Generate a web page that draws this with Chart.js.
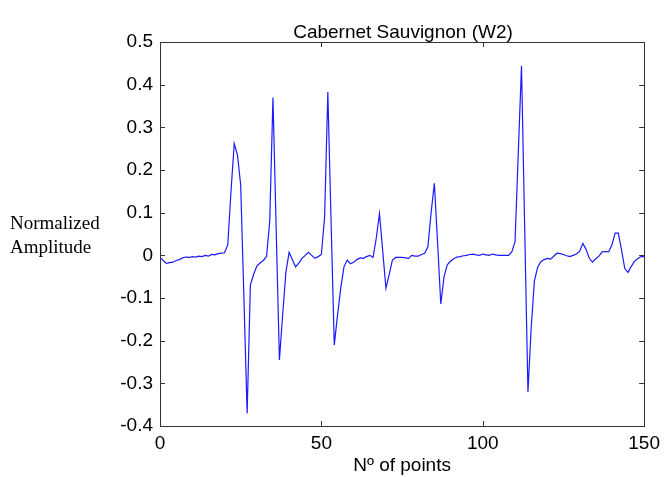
<!DOCTYPE html>
<html>
<head>
<meta charset="utf-8">
<script src="https://cdn.jsdelivr.net/npm/chart.js@4.4.1/dist/chart.umd.min.js"></script>
<style>
    body { margin: 0; background: #fff; }
    .wrap { position: relative; width: 666px; height: 477px; }
    .ylab {
        position: absolute; left: 10px; top: 211px;
        font-family: 'Liberation Serif', 'Times New Roman', serif;
        font-size: 19px; line-height: 24px; color: #000;
    }
    .title {
        position: absolute; left: 160px; width: 486px; top: 20px;
        text-align: center; color: #000;
        font-family: 'Liberation Sans', Arial, sans-serif;
        font-size: 19px; line-height: 24px;
    }
</style>
</head>
<body>
<div class="wrap">
    <canvas id="ampChart" width="666" height="477"></canvas>
    <div class="title">Cabernet Sauvignon (W2)</div>
    <div class="ylab">Normalized<br>Amplitude</div>
</div>
<script>
// Values, one per point (x = 0 .. 150)
const amplitude = [
    -0.005, -0.012, -0.019, -0.017, -0.016, -0.012, -0.010, -0.006, -0.004, -0.005,
    -0.003, -0.004, -0.002, -0.003, 0.000, -0.002, 0.002, 0.001, 0.004, 0.005,
    0.006, 0.025, 0.150, 0.262, 0.235, 0.165, -0.100, -0.370, -0.070, -0.045,
    -0.025, -0.018, -0.012, -0.003, 0.080, 0.370, 0.060, -0.245, -0.140, -0.040,
    0.007, -0.010, -0.027, -0.018, -0.007, 0.000, 0.007, 0.000, -0.007, -0.003,
    0.002, 0.090, 0.383, 0.080, -0.210, -0.140, -0.077, -0.027, -0.011, -0.020,
    -0.016, -0.010, -0.006, -0.007, -0.003, 0.000, -0.005, 0.040, 0.098, 0.010,
    -0.077, -0.045, -0.011, -0.005, -0.005, -0.005, -0.006, -0.007, 0.000, -0.002,
    -0.002, 0.002, 0.005, 0.020, 0.100, 0.169, 0.030, -0.114, -0.050, -0.022,
    -0.014, -0.008, -0.004, -0.003, -0.001, 0.000, 0.002, 0.003, 0.001, 0.000,
    0.003, 0.001, 0.000, 0.003, 0.001, 0.000, 0.000, 0.000, 0.000, 0.008,
    0.032, 0.240, 0.444, 0.060, -0.320, -0.170, -0.060, -0.028, -0.015, -0.010,
    -0.007, -0.009, -0.002, 0.005, 0.004, 0.002, -0.001, -0.003, 0.000, 0.003,
    0.009, 0.028, 0.014, -0.007, -0.016, -0.008, -0.002, 0.008, 0.009, 0.008,
    0.024, 0.052, 0.052, 0.012, -0.031, -0.040, -0.026, -0.014, -0.008, -0.003,
    -0.003
];
const xTicks = [0, 50, 100, 150];
const yTicks = [-0.4, -0.3, -0.2, -0.1, 0, 0.1, 0.2, 0.3, 0.4, 0.5];

const sans = "'Liberation Sans', Arial, sans-serif";

// MATLAB style box with inward ticks on all four sides
const boxPlugin = {
    id: 'boxPlugin',
    afterDatasetsDraw(chart) {
        const ctx = chart.ctx;
        const a = chart.chartArea;
        const xs = chart.scales.x;
        const ys = chart.scales.y;
        const len = 5;
        ctx.save();
        ctx.strokeStyle = '#333';
        ctx.lineWidth = 1;
        ctx.strokeRect(Math.round(a.left) + 0.5, Math.round(a.top) + 0.5,
            Math.round(a.right - a.left), Math.round(a.bottom - a.top));
        ctx.beginPath();
        yTicks.forEach(v => {
            const y = Math.round(ys.getPixelForValue(v)) + 0.5;
            ctx.moveTo(a.left, y); ctx.lineTo(a.left + len, y);
            ctx.moveTo(a.right, y); ctx.lineTo(a.right - len, y);
        });
        xTicks.forEach(v => {
            const x = Math.round(xs.getPixelForValue(v)) + 0.5;
            ctx.moveTo(x, a.bottom); ctx.lineTo(x, a.bottom - len);
            ctx.moveTo(x, a.top); ctx.lineTo(x, a.top + len);
        });
        ctx.stroke();
        ctx.restore();
    }
};

const ctx = document.getElementById('ampChart').getContext('2d');
const ampChart = new Chart(ctx, {
    type: 'line',
    data: {
        datasets: [{
            data: amplitude.map((v, i) => ({ x: i, y: v })),
            borderColor: '#1a1aff',
            borderWidth: 1.2,
            pointRadius: 0,
            tension: 0,
            fill: false
        }]
    },
    options: {
        responsive: false,
        animation: false,
        layout: { padding: { left: 0, right: 19, top: 42, bottom: 0 } },
        plugins: {
            legend: { display: false },
            tooltip: { enabled: false },
            title: { display: false }
        },
        scales: {
            x: {
                type: 'linear',
                min: 0,
                max: 150,
                afterBuildTicks: s => { s.ticks = xTicks.map(v => ({ value: v })); },
                afterFit: s => { s.height = 51; },
                grid: { display: false, drawTicks: false },
                border: { display: false },
                ticks: {
                    color: '#000',
                    padding: 6,
                    maxRotation: 0,
                    font: { family: sans, size: 19 }
                },
                title: {
                    display: true,
                    text: 'Nº of points',
                    color: '#000',
                    padding: { top: 2, bottom: 0 },
                    font: { family: sans, size: 19 }
                }
            },
            y: {
                min: -0.4,
                max: 0.5,
                afterBuildTicks: s => { s.ticks = yTicks.map(v => ({ value: v })); },
                afterFit: s => { s.width = 160; },
                grid: { display: false, drawTicks: false },
                border: { display: false },
                ticks: {
                    color: '#000',
                    padding: 7,
                    font: { family: sans, size: 19 },
                    callback: v => String(Math.round(v * 10) / 10)
                }
            }
        }
    },
    plugins: [boxPlugin]
});
</script>
</body>
</html>
